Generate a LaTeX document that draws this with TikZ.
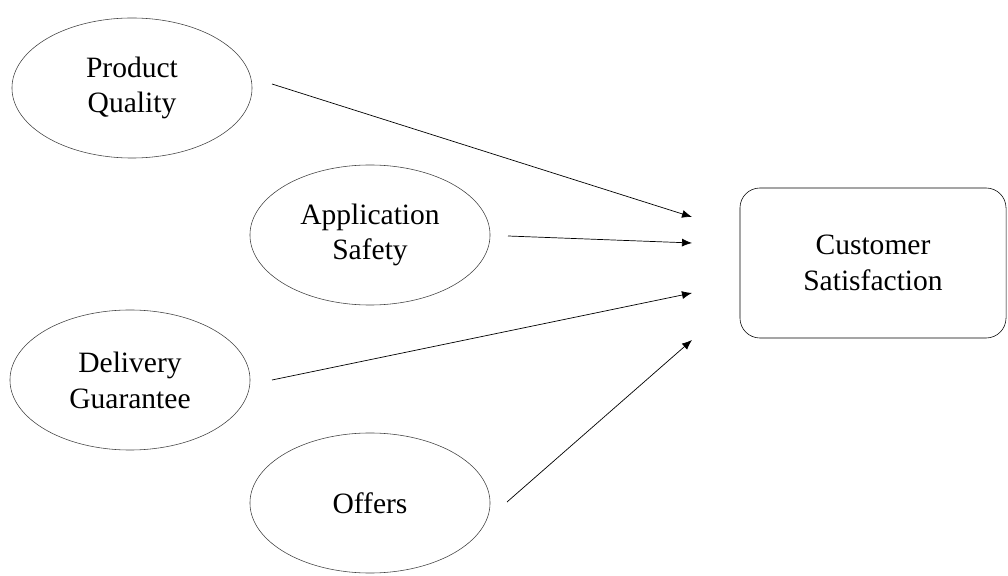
\documentclass[tikz,border=0pt]{standalone}
\usepackage{fontspec}
\setmainfont{Liberation Serif}
\usetikzlibrary{positioning, arrows.meta, shapes.geometric}

\begin{document}
\begin{tikzpicture}[
		x=0.025cm,
		y=-0.025cm,
		font=\fontsize{21}{25.5}\selectfont,
		factor/.style={draw=black!75, ellipse, align=center, minimum width=6cm, minimum height=3.5cm, inner sep=0pt},
		outcome/.style={draw, rounded corners=0.5cm, align=center, minimum width=6.65cm, minimum height=3.75cm},
		link/.style={-{Latex[length=2.5mm, width=2mm]}, line width=0.5pt}
		]
		\useasboundingbox (0,0) rectangle (1008,576);
		
		% Factors
		\node[factor] (pq) at (132,88) {Product\\Quality};
		\node[factor] (as) at (370,235) {Application\\Safety};
		\node[factor] (dg) at (130,380) {Delivery\\Guarantee};
		\node[factor] (of) at (370,503) {Offers};
		
		% Outcome
		\node[outcome] (cs) at (873,263) {Customer\\Satisfaction};
		
		% Arrow ends
		\coordinate (pqs) at (272,84);
		\coordinate (pqe) at (692,217);
		\coordinate (ass) at (508,236);
		\coordinate (ase) at (692,243);
		\coordinate (dgs) at (272,380);
		\coordinate (dge) at (692,293);
		\coordinate (ofs) at (507,502);
		\coordinate (ofe) at (692,340);
		
		% Links
		\draw[link] (pqs) -- (pqe);
		\draw[link] (ass) -- (ase);
		\draw[link] (dgs) -- (dge);
		\draw[link] (ofs) -- (ofe);
	\end{tikzpicture}
\end{document}
